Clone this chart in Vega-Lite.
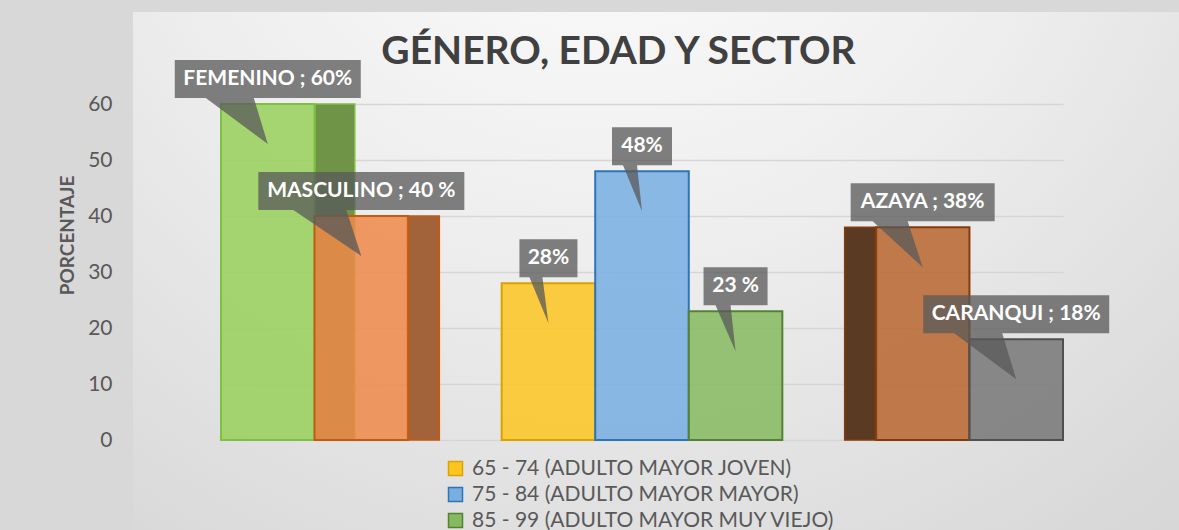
{
  "$schema": "https://vega.github.io/schema/vega-lite/v6.json",
  "width": 1046,
  "height": 518,
  "autosize": {"type": "none"},
  "padding": {"left": 133, "top": 12, "right": 0, "bottom": 0},
  "background": "#d8d8d8",
  "config": {
    "font": "Lato",
    "view": {
      "stroke": null,
      "fill": {
        "gradient": "radial",
        "x1": 0.45, "y1": 0.05, "r1": 0,
        "x2": 0.45, "y2": 0.05, "r2": 1,
        "stops": [
          {"offset": 0, "color": "#ffffff"},
          {"offset": 0.45, "color": "#ededed"},
          {"offset": 0.85, "color": "#d8d8d8"},
          {"offset": 1, "color": "#d4d4d4"}
        ]
      }
    }
  },
  "title": {
    "text": "GÉNERO, EDAD Y SECTOR",
    "fontSize": 39,
    "fontWeight": "bold",
    "color": "#404040",
    "anchor": "middle",
    "frame": "bounds",
    "baseline": "alphabetic",
    "offset": -91
  },
  "data": {
    "values": [
      {"serie": "FEMENINO", "valor": 60, "etiqueta": "FEMENINO ; 60%"},
      {"serie": "MASCULINO", "valor": 40, "etiqueta": "MASCULINO ; 40 %"},
      {"serie": "65 - 74 (ADULTO MAYOR JOVEN)", "valor": 28, "etiqueta": "28%"},
      {"serie": "75 - 84 (ADULTO MAYOR MAYOR)", "valor": 48, "etiqueta": "48%"},
      {"serie": "85 - 99 (ADULTO MAYOR MUY VIEJO)", "valor": 23, "etiqueta": "23 %"},
      {"serie": "AZAYA", "valor": 38, "etiqueta": "AZAYA ; 38%"},
      {"serie": "CARANQUI", "valor": 18, "etiqueta": "CARANQUI ; 18%"}
    ]
  },
  "layer": [
    {
      "data": {"values": [{"piso": "suelo"}]},
      "mark": {"type": "rule", "color": "#b5b5b5", "strokeWidth": 39, "strokeCap": "butt"},
      "encoding": {
        "x": {"value": 0},
        "x2": {"value": 1046},
        "y": {"datum": 3.5, "type": "quantitative"}
      }
    },
    {
      "transform": [{"filter": "datum.serie === 'FEMENINO'"}],
      "mark": {"type": "bar", "width": 40, "xOffset": 67, "fill": "#6f9447", "stroke": "#7cc142", "strokeWidth": 1.5},
      "encoding": {
        "x": {"field": "serie", "type": "nominal"},
        "y": {"field": "valor", "type": "quantitative"}
      }
    },
    {
      "transform": [{"filter": "datum.serie === 'MASCULINO'"}],
      "mark": {"type": "bar", "width": 32, "xOffset": 62, "fill": "#a3633a", "stroke": "#c55a11", "strokeWidth": 1.5},
      "encoding": {
        "x": {"field": "serie", "type": "nominal"},
        "y": {"field": "valor", "type": "quantitative"}
      }
    },
    {
      "transform": [{"filter": "datum.serie === 'AZAYA'"}],
      "mark": {"type": "bar", "width": 32, "xOffset": -62, "fill": "#5a3a22", "stroke": "#843c0c", "strokeWidth": 1.5},
      "encoding": {
        "x": {"field": "serie", "type": "nominal"},
        "y": {"field": "valor", "type": "quantitative"}
      }
    },
    {
      "mark": {"type": "bar", "strokeWidth": 2, "fillOpacity": 0.85},
      "encoding": {
        "x": {"field": "serie", "type": "nominal"},
        "y": {"field": "valor", "type": "quantitative"},
        "fill": {
          "field": "serie",
          "type": "nominal",
          "scale": {
            "domain": ["FEMENINO", "MASCULINO", "65 - 74 (ADULTO MAYOR JOVEN)", "75 - 84 (ADULTO MAYOR MAYOR)", "85 - 99 (ADULTO MAYOR MUY VIEJO)", "AZAYA", "CARANQUI"],
            "range": ["#97d05a", "#ef8849", "#fdc520", "#78aee2", "#85ba5e", "#b8652e", "#777777"]
          },
          "legend": {
            "values": ["65 - 74 (ADULTO MAYOR JOVEN)", "75 - 84 (ADULTO MAYOR MAYOR)", "85 - 99 (ADULTO MAYOR MUY VIEJO)"],
            "title": null,
            "orient": "none",
            "legendX": 312,
            "legendY": 446,
            "padding": 0,
            "symbolType": "square",
            "symbolSize": 196,
            "symbolStrokeWidth": 1.5,
            "labelFontSize": 21,
            "labelColor": "#595959",
            "labelOffset": 6,
            "labelLimit": 0,
            "rowPadding": 4
          }
        },
        "stroke": {
          "field": "serie",
          "type": "nominal",
          "scale": {
            "domain": ["FEMENINO", "MASCULINO", "65 - 74 (ADULTO MAYOR JOVEN)", "75 - 84 (ADULTO MAYOR MAYOR)", "85 - 99 (ADULTO MAYOR MUY VIEJO)", "AZAYA", "CARANQUI"],
            "range": ["#7cc142", "#c55a11", "#d9a300", "#2e75b6", "#548235", "#843c0c", "#505050"]
          },
          "legend": {
            "values": ["65 - 74 (ADULTO MAYOR JOVEN)", "75 - 84 (ADULTO MAYOR MAYOR)", "85 - 99 (ADULTO MAYOR MUY VIEJO)"],
            "title": null,
            "orient": "none",
            "legendX": 312,
            "legendY": 446,
            "padding": 0,
            "symbolType": "square",
            "symbolSize": 196,
            "symbolStrokeWidth": 1.5,
            "labelFontSize": 21,
            "labelColor": "#595959",
            "labelOffset": 6,
            "labelLimit": 0,
            "rowPadding": 4
          }
        }
      }
    },
    {
      "mark": {"type": "point", "filled": true, "size": 4, "fill": "#595959", "fillOpacity": 0.76, "strokeWidth": 0},
      "encoding": {
        "x": {"field": "serie", "type": "nominal"},
        "y": {"field": "valor", "type": "quantitative"},
        "shape": {
          "field": "etiqueta",
          "type": "nominal",
          "legend": null,
          "scale": {
            "domain": ["FEMENINO ; 60%", "MASCULINO ; 40 %", "28%", "48%", "23 %", "AZAYA ; 38%", "CARANQUI ; 18%"],
            "range": [
              "M-93,-44H93V-6H-14L0,40L-62,-6H-93Z",
              "M-103,-44H103V-6H-15L0,40L-68,-6H-103Z",
              "M-29,-44H29V-6H-6L0,40L-19,-6H-29Z",
              "M-30,-44H30V-6H-5L0,40L-19,-6H-30Z",
              "M-32,-44H32V-6H-5L0,40L-20,-6H-32Z",
              "M-72,-44H72V-6H-15L0,40L-50,-6H-72Z",
              "M-93,-44H93V-6H-14L0,40L-62,-6H-93Z"
            ]
          }
        }
      }
    },
    {
      "mark": {"type": "text", "dy": -25, "fontSize": 21, "fontWeight": "bold", "color": "#ffffff", "baseline": "middle", "align": "center"},
      "encoding": {
        "x": {"field": "serie", "type": "nominal"},
        "y": {"field": "valor", "type": "quantitative"},
        "text": {"field": "etiqueta", "type": "nominal"}
      }
    }
  ],
  "resolve": {"scale": {"x": "shared", "y": "shared"}},
  "encoding": {
    "x": {
      "field": "serie",
      "type": "nominal",
      "axis": null,
      "scale": {
        "domain": ["FEMENINO", "MASCULINO", " ", "65 - 74 (ADULTO MAYOR JOVEN)", "75 - 84 (ADULTO MAYOR MAYOR)", "85 - 99 (ADULTO MAYOR MUY VIEJO)", "  ", "AZAYA", "CARANQUI"],
        "range": [88, 930],
        "paddingInner": 0,
        "paddingOuter": 0
      }
    },
    "y": {
      "field": "valor",
      "type": "quantitative",
      "scale": {"domain": [0, 60], "range": [428, 92], "nice": false, "zero": true},
      "axis": {
        "title": "PORCENTAJE",
        "titleFontSize": 19,
        "titleFontWeight": "bold",
        "titleColor": "#595959",
        "titleX": -66,
        "titleY": 223,
        "titleAlign": "center",
        "titleBaseline": "middle",
        "titleAngle": -90,
        "values": [0, 10, 20, 30, 40, 50, 60],
        "labelFontSize": 21,
        "labelColor": "#595959",
        "labelPadding": 21,
        "ticks": false,
        "domain": false,
        "grid": true,
        "gridColor": "#d6d6d6",
        "gridWidth": 1.5
      }
    }
  }
}
